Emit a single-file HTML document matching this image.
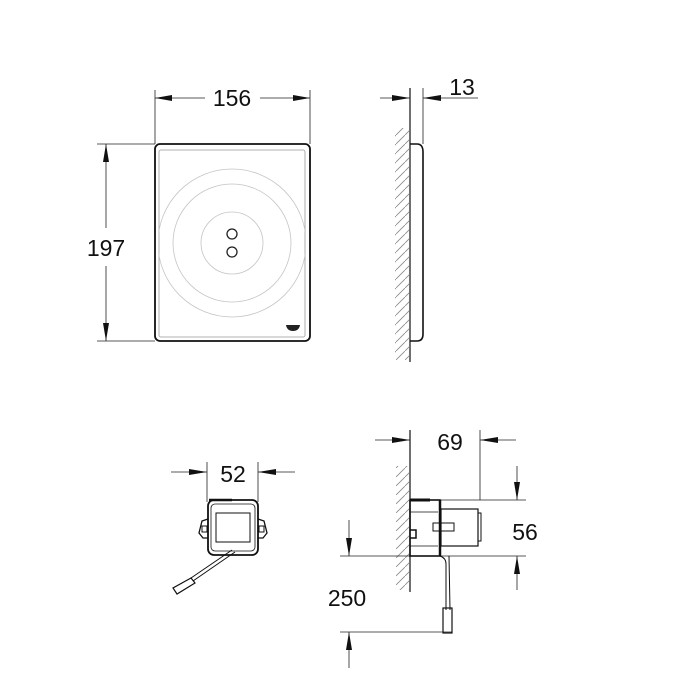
<!DOCTYPE html>
<html><head><meta charset="utf-8"><style>
html,body{margin:0;padding:0;background:#fff}
svg{display:block}
text{font-family:"Liberation Sans",sans-serif;fill:#111}
</style></head><body>
<svg width="675" height="682" viewBox="0 0 675 682" xmlns="http://www.w3.org/2000/svg">
<defs>
<pattern id="h" width="9" height="9" patternUnits="userSpaceOnUse">
<line x1="0" y1="9" x2="9" y2="0" stroke="#888" stroke-width="0.8"/>
</pattern>
</defs>
<g stroke="#222" stroke-width="0.8" fill="none">
<line x1="155" y1="90" x2="155" y2="144"/>
<line x1="310" y1="90" x2="310" y2="144"/>
<line x1="155" y1="98" x2="205" y2="98"/>
<line x1="260" y1="98" x2="310" y2="98"/>
<line x1="97" y1="144" x2="155" y2="144"/>
<line x1="97" y1="341" x2="155" y2="341"/>
<line x1="106" y1="144" x2="106" y2="228"/>
<line x1="106" y1="266" x2="106" y2="341"/>
</g>
<g fill="#111">
<polygon points="155,98 172,95 172,101"/>
<polygon points="310,98 293,95 293,101"/>
<polygon points="106,144 103,162 109,162"/>
<polygon points="106,341 103,323 109,323"/>
</g>
<text x="232" y="106" font-size="23" text-anchor="middle">156</text>
<text x="106" y="256" font-size="23" text-anchor="middle">197</text>
<rect x="155" y="144" width="155" height="197" rx="5" fill="none" stroke="#111" stroke-width="1.8"/>
<rect x="159" y="150" width="146" height="187" rx="2" fill="none" stroke="#999" stroke-width="0.8"/>
<clipPath id="c"><rect x="159" y="150" width="146" height="187"/></clipPath>
<g clip-path="url(#c)" fill="none" stroke="#c4c4c4" stroke-width="0.8">
<circle cx="232" cy="243" r="74"/>
<circle cx="232" cy="243" r="59"/>
<circle cx="232" cy="243" r="31"/>
</g>
<circle cx="232" cy="234" r="5" fill="none" stroke="#222" stroke-width="1.3"/>
<circle cx="232" cy="252" r="5" fill="none" stroke="#222" stroke-width="1.3"/>
<path d="M286,325 L300,325 Q299,331 293,331 Q287,331 286,325Z" fill="#222"/>
<rect x="395" y="128" width="14" height="232" fill="url(#h)"/>
<g stroke="#222" stroke-width="0.8" fill="none">
<line x1="410" y1="88" x2="410" y2="362" stroke-width="1.3"/>
<line x1="423" y1="88" x2="423" y2="144"/>
<line x1="380" y1="98" x2="410" y2="98"/>
<line x1="423" y1="98" x2="478" y2="98"/>
</g>
<path d="M410,144 L417,144 Q423,144 423,152 L423,334 Q423,341 417,341 L410,341" fill="none" stroke="#111" stroke-width="1.6"/>
<g fill="#111">
<polygon points="410,98 392,95 392,101"/>
<polygon points="423,98 441,95 441,101"/>
</g>
<text x="462" y="95" font-size="23" text-anchor="middle">13</text>
<g stroke="#222" stroke-width="0.8" fill="none">
<line x1="207" y1="462" x2="207" y2="502"/>
<line x1="258" y1="462" x2="258" y2="502"/>
<line x1="171" y1="472" x2="207" y2="472"/>
<line x1="258" y1="472" x2="295" y2="472"/>
</g>
<g fill="#111">
<polygon points="207,472 189,469 189,475"/>
<polygon points="258,472 276,469 276,475"/>
</g>
<text x="233" y="482" font-size="23" text-anchor="middle">52</text>
<g stroke="#111" fill="none">
<rect x="208" y="500" width="50" height="55" rx="6" stroke-width="1.8"/>
<rect x="211" y="504" width="44" height="47" rx="4" stroke-width="0.8"/>
<rect x="216" y="513" width="34" height="29" stroke-width="1"/>
<path d="M208,519 L202,521 L199,533 L203,538 L208,538" stroke-width="1.3"/>
<rect x="202" y="526" width="5" height="6" stroke-width="1"/>
<path d="M258,519 L264,521 L267,533 L263,538 L258,538" stroke-width="1.3"/>
<rect x="259" y="526" width="5" height="6" stroke-width="1"/>
<line x1="209" y1="500" x2="232" y2="500" stroke-width="2.5"/>
<path d="M232,550 L191,578 M235,552 L193,581" stroke-width="1"/>
<path d="M191,578 L173,588 L177,594 L195,583 Z" stroke-width="1.2"/>
</g>
<rect x="396" y="466" width="13" height="124" fill="url(#h)"/>
<g stroke="#222" stroke-width="0.8" fill="none">
<line x1="410" y1="430" x2="410" y2="592" stroke-width="1.3"/>
<line x1="480" y1="430" x2="480" y2="500"/>
<line x1="375" y1="440" x2="410" y2="440"/>
<line x1="480" y1="440" x2="516" y2="440"/>
<line x1="440" y1="500" x2="526" y2="500"/>
<line x1="340" y1="556" x2="526" y2="556"/>
<line x1="517" y1="466" x2="517" y2="500"/>
<line x1="517" y1="556" x2="517" y2="590"/>
<line x1="349" y1="520" x2="349" y2="556"/>
<line x1="349" y1="632" x2="349" y2="668"/>
<line x1="340" y1="632" x2="452" y2="632"/>
</g>
<g fill="#111">
<polygon points="410,440 392,437 392,443"/>
<polygon points="480,440 498,437 498,443"/>
<polygon points="517,500 514,482 520,482"/>
<polygon points="517,556 514,574 520,574"/>
<polygon points="349,556 346,538 352,538"/>
<polygon points="349,632 346,650 352,650"/>
</g>
<text x="450" y="450" font-size="23" text-anchor="middle">69</text>
<text x="525" y="540" font-size="23" text-anchor="middle">56</text>
<text x="347" y="606" font-size="23" text-anchor="middle">250</text>
<g stroke="#111" fill="none">
<rect x="410" y="500" width="30" height="56" stroke-width="1.6"/>
<line x1="410" y1="500" x2="430" y2="500" stroke-width="3"/>
<line x1="410" y1="512" x2="438" y2="512" stroke-width="0.7"/>
<line x1="410" y1="546" x2="438" y2="546" stroke-width="0.7"/>
<line x1="440" y1="500" x2="440" y2="556" stroke-width="2.5"/>
<rect x="441" y="509" width="37" height="37" stroke-width="1.2"/>
<rect x="478" y="513" width="3" height="28" stroke-width="1"/>
<rect x="433" y="523" width="21" height="8" stroke-width="1"/>
<path d="M410,530 L416,530 L416,538 L410,538" stroke-width="1.5"/>
<path d="M440,556 Q446,558 446,564 L446,610 M449,556 L450,610" stroke-width="1"/>
<rect x="443" y="608" width="9" height="25" stroke-width="1.2"/>
</g>
</svg>
</body></html>
